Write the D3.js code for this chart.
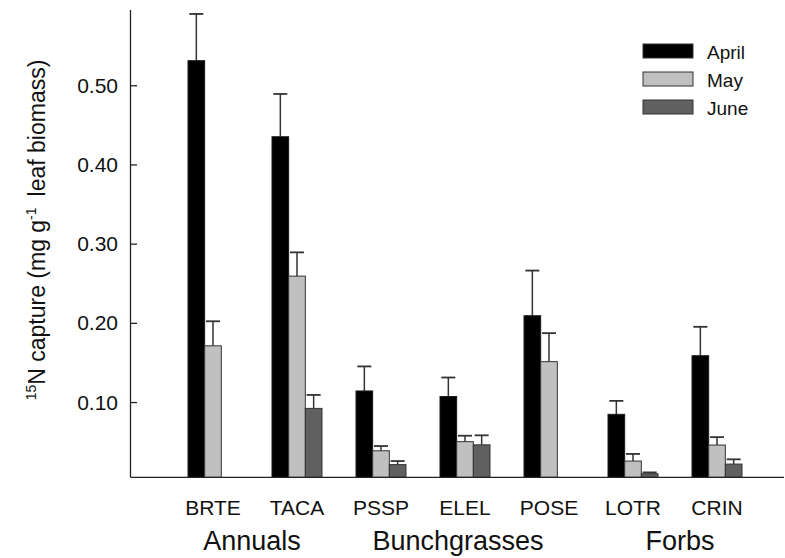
<!DOCTYPE html>
<html>
<head>
<meta charset="utf-8">
<script src="https://cdn.jsdelivr.net/npm/d3@7"></script>
<style>
  html, body { margin: 0; padding: 0; background: #fff; }
  svg { display: block; font-family: "Liberation Sans", Arial, Helvetica, sans-serif; }
</style>
</head>
<body>
<svg id="chart" width="785" height="558"></svg>
<script>
// Species codes, functional groups and sampling months
const species = ["BRTE", "TACA", "PSSP", "ELEL", "POSE", "LOTR", "CRIN"];
const groups = ["Annuals", "Annuals", "Bunchgrasses", "Bunchgrasses", "Bunchgrasses", "Forbs", "Forbs"];
const months = ["April", "May", "June"];

// Mean 15N capture (mg g-1 leaf biomass); null = not sampled
const april = [0.531, 0.435, 0.114, 0.107, 0.209, 0.0845, 0.1585];
const may   = [0.171, 0.259, 0.0385, 0.050, 0.151, 0.0255, 0.0457];
const june  = [null, 0.092, 0.021, 0.046, null, 0.0095, 0.0217];

// Standard errors (upper bars only)
const aprilSE = [0.059, 0.054, 0.031, 0.024, 0.057, 0.017, 0.0365];
const maySE   = [0.031, 0.030, 0.006, 0.0075, 0.036, 0.009, 0.010];
const juneSE  = [null, 0.017, 0.0045, 0.012, null, 0.0017, 0.006];

const yTicks = [0.1, 0.2, 0.3, 0.4, 0.5];

const series = [
  { month: "April", values: april, se: aprilSE, fill: "#000000", stroke: "#1a1a1a" },
  { month: "May",   values: may,   se: maySE,   fill: "#c0c0c0", stroke: "#333333" },
  { month: "June",  values: june,  se: juneSE,  fill: "#606060", stroke: "#333333" }
];

const svg = d3.select("#chart");

const axisLeft = 130.5, axisBottom = 477.3, axisTop = 10;

const y = d3.scaleLinear().domain([0.005, 0.595]).range([axisBottom, axisTop]);
const x = d3.scaleBand().domain(species).range([188, 742]).paddingInner(0.405).paddingOuter(0);
const xm = d3.scaleBand().domain(months).range([0, x.bandwidth()]);

// Bars
const barRows = [];
series.forEach(s => {
  species.forEach((sp, i) => {
    if (s.values[i] != null) {
      barRows.push({ sp, month: s.month, v: s.values[i], se: s.se[i], fill: s.fill, stroke: s.stroke });
    }
  });
});

// Error bars (drawn behind bars so the stem starts at bar top)
const eb = svg.append("g").attr("stroke", "#333").attr("fill", "none");
barRows.forEach(d => {
  const cx = x(d.sp) + xm(d.month) + xm.bandwidth() / 2;
  const top = y(d.v + d.se);
  eb.append("line").attr("x1", cx).attr("x2", cx).attr("y1", y(d.v)).attr("y2", top).attr("stroke-width", 1.5);
  eb.append("line").attr("x1", cx - 7).attr("x2", cx + 7).attr("y1", top).attr("y2", top).attr("stroke-width", 1.8);
});

svg.append("g").selectAll("rect").data(barRows).join("rect")
  .attr("x", d => x(d.sp) + xm(d.month))
  .attr("y", d => y(d.v))
  .attr("width", xm.bandwidth())
  .attr("height", d => axisBottom - y(d.v))
  .attr("fill", d => d.fill)
  .attr("stroke", d => d.stroke)
  .attr("stroke-width", 1);

// Y axis with inward ticks
const yAxis = d3.axisRight(y).tickValues(yTicks).tickSize(6.5).tickFormat("");
const gy = svg.append("g").attr("transform", `translate(${axisLeft},0)`).call(yAxis);
gy.select(".domain").remove();
gy.selectAll(".tick line").attr("stroke", "#222").attr("stroke-width", 1.3);
svg.append("line").attr("x1", axisLeft).attr("x2", axisLeft).attr("y1", axisTop).attr("y2", axisBottom)
  .attr("stroke", "#222").attr("stroke-width", 1.3);

svg.append("g").selectAll("text").data(yTicks).join("text")
  .attr("x", 118).attr("y", d => y(d) + 7.5)
  .attr("text-anchor", "end").attr("font-size", 21).attr("fill", "#111")
  .text(d => d3.format(".2f")(d));

// X axis line
svg.append("line").attr("x1", axisLeft).attr("x2", 784).attr("y1", axisBottom).attr("y2", axisBottom)
  .attr("stroke", "#222").attr("stroke-width", 1.3);

// Species labels
svg.append("g").selectAll("text").data(species).join("text")
  .attr("x", d => x(d) + x.bandwidth() / 2)
  .attr("y", 515)
  .attr("text-anchor", "middle").attr("font-size", 21).attr("fill", "#111")
  .text(d => d);

// Functional group labels, centred under their species (small optical nudges)
const groupNames = Array.from(new Set(groups));
const groupNudge = { "Annuals": -3, "Bunchgrasses": -7, "Forbs": 5 };
svg.append("g").selectAll("text").data(groupNames).join("text")
  .attr("x", g => d3.mean(species.filter((s, i) => groups[i] === g), s => x(s) + x.bandwidth() / 2) + groupNudge[g])
  .attr("y", 550)
  .attr("text-anchor", "middle").attr("font-size", 27).attr("fill", "#111")
  .text(g => g);

// Y axis title
const title = svg.append("text")
  .attr("transform", "translate(45,230) rotate(-90)")
  .attr("text-anchor", "middle").attr("font-size", 23).attr("fill", "#111");
title.append("tspan").attr("font-size", 14).attr("dy", -9).text("15");
title.append("tspan").attr("dy", 9).text("N capture (mg g");
title.append("tspan").attr("font-size", 14).attr("dy", -9).text("-1");
title.append("tspan").attr("dy", 9).attr("dx", 11).text("leaf biomass)");

// Legend
const legend = svg.append("g").attr("transform", "translate(643,44)");
series.forEach((s, i) => {
  const row = legend.append("g").attr("transform", `translate(0,${i * 28})`);
  row.append("rect").attr("width", 50).attr("height", 14)
    .attr("fill", s.fill).attr("stroke", "#333").attr("stroke-width", 1);
  row.append("text").attr("x", 64).attr("y", 14.5).attr("font-size", 19).attr("fill", "#111").text(s.month);
});
</script>
</body>
</html>
